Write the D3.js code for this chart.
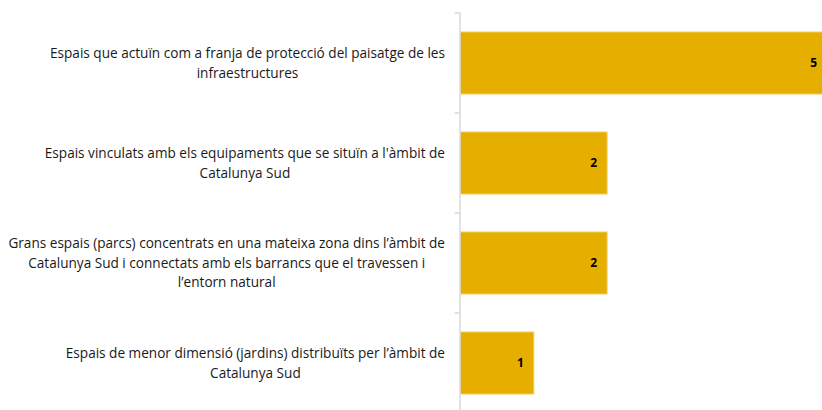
<!DOCTYPE html>
<html>
<head>
<meta charset="utf-8">
<script src="https://cdn.jsdelivr.net/npm/d3@7"></script>
<style>
  body { margin: 0; background: #fff; }
  svg { display: block; }
</style>
</head>
<body>
<svg id="chart" width="822" height="410"></svg>
<script>
// categories, each split in the lines shown on the left
const categories = [
  ["Espais que actuïn com a franja de protecció del paisatge de les", "infraestructures"],
  ["Espais vinculats amb els equipaments que se situïn a l'àmbit de", "Catalunya Sud"],
  ["Grans espais (parcs) concentrats en una mateixa zona dins l’àmbit de", "Catalunya Sud i connectats amb els barrancs que el travessen i", "l’entorn natural"],
  ["Espais de menor dimensió (jardins) distribuïts per l’àmbit de", "Catalunya Sud"]
];
const values = [5, 2, 2, 1];

const svg = d3.select("#chart");
const plotLeft = 460.5, plotTop = 13, plotBottom = 413;

// x scale: 1 unit ~ 73px
let x = d3.scaleLinear().domain([0, 5]).range([plotLeft, plotLeft + 5 * 73.3]);
let y = d3.scaleBand().domain(d3.range(categories.length)).range([plotTop, plotBottom]).paddingInner(0.38).paddingOuter(0.19);

// bars
svg.selectAll("rect.bar")
  .data(values)
  .join("rect")
  .attr("class", "bar")
  .attr("x", x(0))
  .attr("y", (d, i) => y(i))
  .attr("width", d => x(d) - x(0))
  .attr("height", y.bandwidth())
  .attr("fill", "#e6af00")
  .attr("stroke", "#f0cd60")
  .attr("stroke-width", 1);

// value labels
svg.selectAll("text.val")
  .data(values)
  .join("text")
  .attr("class", "val")
  .attr("x", d => x(d) - 10)
  .attr("y", (d, i) => y(i) + y.bandwidth() / 2)
  .attr("dy", "0.35em")
  .attr("text-anchor", "end")
  .attr("font-family", "'Open Sans', sans-serif")
  .attr("font-size", 12)
  .attr("font-weight", "bold")
  .attr("fill", "#000")
  .text(d => d);

// axis line + ticks between categories
const bandStep = (plotBottom - plotTop) / categories.length;
svg.append("line")
  .attr("x1", plotLeft - 0.5).attr("x2", plotLeft - 0.5)
  .attr("y1", plotTop).attr("y2", 410)
  .attr("stroke", "#d9d9d9").attr("stroke-width", 1.5);
svg.selectAll("line.tick")
  .data(d3.range(categories.length))
  .join("line")
  .attr("class", "tick")
  .attr("x1", plotLeft - 6).attr("x2", plotLeft)
  .attr("y1", i => plotTop + i * bandStep)
  .attr("y2", i => plotTop + i * bandStep)
  .attr("stroke", "#d9d9d9").attr("stroke-width", 1.5);

// category labels: centred lines, block right-aligned at ~445
const lineH = 19.5;
categories.forEach((lines, i) => {
  const g = svg.append("g");
  const cy = y(i) + y.bandwidth() / 2;
  const texts = lines.map((ln, j) => g.append("text")
    .attr("y", cy + (j - (lines.length - 1) / 2) * lineH)
    .attr("dy", "0.35em")
    .attr("text-anchor", "middle")
    .attr("font-family", "'Open Sans', sans-serif")
    .attr("font-size", 13.6)
    .attr("fill", "#1a1a1a")
    .text(ln));
  const w = d3.max(texts, t => t.node().getComputedTextLength());
  texts.forEach(t => t.attr("x", 445 - w / 2));
});
</script>
</body>
</html>
